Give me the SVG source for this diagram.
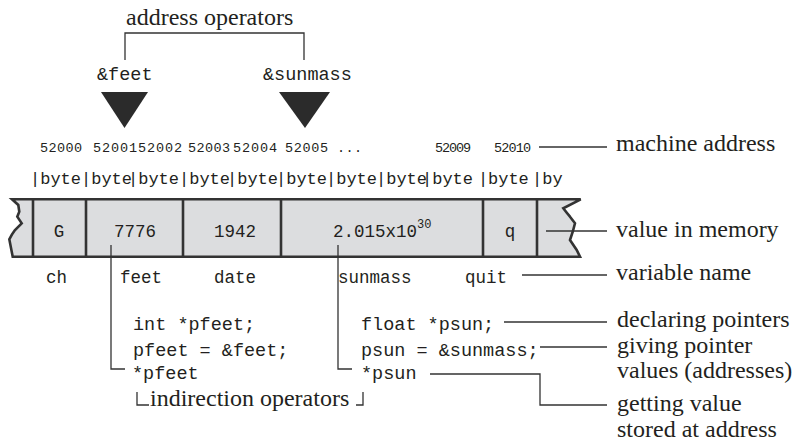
<svg xmlns="http://www.w3.org/2000/svg" width="798" height="444" viewBox="0 0 798 444">
<style>
.ln{fill:none;stroke:#333;stroke-width:1.3}
.cell{fill:none;stroke:#333;stroke-width:2.6}
</style>
<rect width="798" height="444" fill="#fff"/>

<g id="address-operators">
<text font-family="Liberation Serif, serif" font-size="24" fill="#231f20" x="126" y="25">address operators</text>
<text font-family="Liberation Mono, monospace" fill="#231f20" x="97" y="80" font-size="18.5">&amp;feet</text>
<text font-family="Liberation Mono, monospace" fill="#231f20" x="263" y="80" font-size="18.5">&amp;sunmass</text>
<polygon points="101,92 148,92 124.5,128" fill="#2b2b2b"/>
<polygon points="279,92 330,92 305,128" fill="#2b2b2b"/>
</g>

<g id="machine-address-row">
<g font-family="Liberation Mono, monospace" fill="#231f20" font-size="13.5">
<text x="40" y="152" textLength="42" lengthAdjust="spacing">52000</text>
<text x="93" y="152" textLength="89" lengthAdjust="spacing">5200152002</text>
<text x="188" y="152" textLength="42" lengthAdjust="spacing">52003</text>
<text x="233" y="152" textLength="44" lengthAdjust="spacing">52004</text>
<text x="285" y="152" textLength="43" lengthAdjust="spacing">52005</text>
<text x="337" y="152" textLength="25" lengthAdjust="spacing">...</text>
<text x="435" y="152" textLength="36" lengthAdjust="spacing">52009</text>
<text x="494" y="152" textLength="37" lengthAdjust="spacing">52010</text>
</g>
<text font-family="Liberation Serif, serif" font-size="24" fill="#231f20" x="616" y="151">machine address</text>
</g>

<g id="byte-row">
<text font-family="Liberation Mono, monospace" fill="#231f20" font-size="17" y="184"><tspan x="30">|byte</tspan><tspan x="81">|byte</tspan><tspan x="128">|byte</tspan><tspan x="179">|byte</tspan><tspan x="227">|byte</tspan><tspan x="276">|byte</tspan><tspan x="326">|byte</tspan><tspan x="376">|byte</tspan><tspan x="422">|byte</tspan><tspan x="478">|</tspan><tspan x="488">byte</tspan><tspan x="532">|by</tspan></text>
</g>

<g id="memory-strip">
<path d="M12,199.3 L580.7,199.3 L563.3,208.3 Q566,212 570,216.7 L575,223.3 Q573,232 570,240 L576.7,250 L580,256.7 L12.7,256.7 L9.3,239.3 Q12,234 15,230 L21.7,223.3 L17.3,216.7 L19.3,211.7 L18.3,205 Z" fill="#dcdddf" stroke="#333" stroke-width="2.6" stroke-linejoin="miter"/>
<line class="cell" x1="33" y1="199" x2="33" y2="257"/>
<line class="cell" x1="86" y1="199" x2="86" y2="257"/>
<line class="cell" x1="183" y1="199" x2="183" y2="257"/>
<line class="cell" x1="281" y1="199" x2="281" y2="257"/>
<line class="cell" x1="483" y1="199" x2="483" y2="257"/>
<line class="cell" x1="537" y1="199" x2="537" y2="257"/>
<g font-family="Liberation Mono, monospace" fill="#231f20" font-size="17.5" text-anchor="middle">
<text x="59" y="237">G</text>
<text x="135" y="237">7776</text>
<text x="235" y="237">1942</text>
<text x="510" y="237">q</text>
</g>
<text font-family="Liberation Mono, monospace" fill="#231f20" font-size="17.5" x="333" y="237">2.015x10<tspan font-size="12" dy="-9">30</tspan></text>
<text font-family="Liberation Serif, serif" font-size="24" fill="#231f20" x="616" y="237">value in memory</text>
</g>

<g id="variable-names">
<g font-family="Liberation Mono, monospace" fill="#231f20" font-size="17.5">
<text x="46" y="283">ch</text>
<text x="120" y="283">feet</text>
<text x="214" y="283">date</text>
<text x="338" y="283">sunmass</text>
<text x="465" y="283">quit</text>
</g>
<text font-family="Liberation Serif, serif" font-size="24" fill="#231f20" x="616" y="280">variable name</text>
</g>

<g id="feet-code">
<g font-family="Liberation Mono, monospace" fill="#231f20" font-size="18.5">
<text x="133" y="330">int *pfeet;</text>
<text x="133" y="356">pfeet = &amp;feet;</text>
<text x="132" y="379">*pfeet</text>
</g>
</g>

<g id="sun-code">
<g font-family="Liberation Mono, monospace" fill="#231f20" font-size="18.5">
<text x="361" y="330">float *psun;</text>
<text x="361" y="356">psun = &amp;sunmass;</text>
<text x="361" y="379">*psun</text>
</g>
</g>

<g id="indirection-operators">
<text font-family="Liberation Serif, serif" font-size="24" fill="#231f20" x="150" y="406">indirection operators</text>
</g>

<g id="right-labels" font-family="Liberation Serif, serif" font-size="24" fill="#231f20">
<text x="617" y="327">declaring pointers</text>
<text x="617" y="353">giving pointer</text>
<text x="617" y="378">values (addresses)</text>
<text x="617" y="411">getting value</text>
<text x="617" y="437">stored at address</text>
</g>

<g id="connectors">
<polyline class="ln" points="125,60 125,33 304,33 304,60"/>
<line class="ln" x1="539" y1="147" x2="607" y2="147"/>
<line class="ln" x1="546" y1="231" x2="607" y2="231"/>
<line class="ln" x1="522" y1="275" x2="607" y2="275"/>
<line class="ln" x1="504" y1="322" x2="607" y2="322"/>
<line class="ln" x1="540" y1="347" x2="607" y2="347"/>
<polyline class="ln" points="430,374 540,374 540,405 607,405"/>
<polyline class="ln" points="111,245 111,369 125,369"/>
<polyline class="ln" points="338,245 338,369 352,369"/>
<polyline class="ln" points="137,392 137,405 149,405"/>
<polyline class="ln" points="356,405 363,405 363,392"/>
</g>
</svg>
